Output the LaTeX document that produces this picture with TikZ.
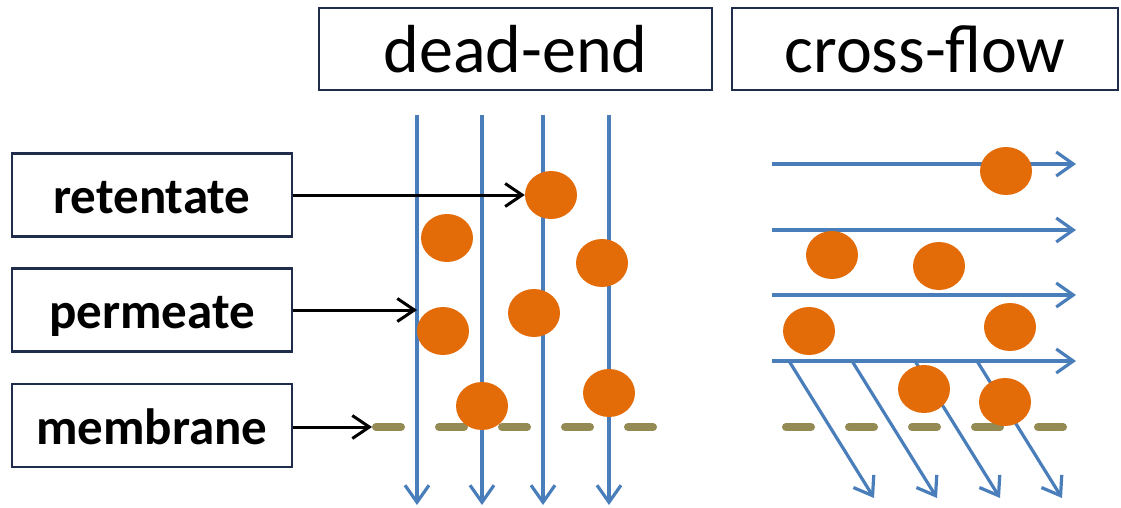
\documentclass[tikz,border=0pt]{standalone}
\usepackage{fontspec}
\setmainfont{Carlito}
\usetikzlibrary{arrows.meta,shapes.geometric}
\definecolor{flowblue}{HTML}{4A7EBB}
\definecolor{dotorange}{HTML}{E36C09}
\definecolor{membr}{HTML}{948A54}
\definecolor{boxline}{HTML}{1F2D4A}
\begin{document}
\begin{tikzpicture}[x=1pt,y=-1pt,
  labelbox/.style={draw=boxline, line width=2.5pt, minimum width=280pt, minimum height=83pt,
    inner sep=0pt, font=\fontsize{51}{61}\selectfont\bfseries, text height=37pt, text depth=0pt},
  headbox/.style={draw=boxline, line width=2.8pt, minimum height=82pt,
    inner sep=0pt, font=\fontsize{68}{78}\selectfont, text height=47pt, text depth=0pt},
  flow/.style={draw=flowblue, line width=3.2pt,
    -{Straight Barb[length=17pt,width=24pt,line width=3.2pt]}},
  pointer/.style={draw=black, line width=3pt,
    -{Straight Barb[length=17pt,width=23pt,line width=3pt]}},
  membrane/.style={draw=membr, line width=8pt, line cap=round, dash pattern=on 25pt off 38pt},
  dot/.style={ellipse, fill=dotorange, draw=none, minimum width=52pt, minimum height=48pt, inner sep=0pt}
]
\useasboundingbox (0,0) rectangle (1121,508);

% headers
\node[headbox, minimum width=393pt] (hde) at (515.5,49) {dead-end};
\node[headbox, minimum width=386pt] (hcf) at (925,49) {cross-flow};

% labels
\node[labelbox] (ret) at (152,195) {retentate};
\node[labelbox] (per) at (152,310) {permeate};
\node[labelbox] (mem) at (152,425.5) {membrane};

% dead-end membrane
\coordinate (m1s) at (372,427);
\draw[membrane] (376,427) -- (656,427);
% cross-flow membrane
\draw[membrane] (786,427) -- (1066,427);

% dead-end flow lines
\foreach \i/\x in {1/417,2/482,3/543,4/609}{
  \coordinate (dt\i) at (\x,115);
  \coordinate (db\i) at (\x,505);
  \draw[flow] (dt\i) -- (db\i);
}

% cross-flow horizontal lines
\foreach \i/\y in {1/164,2/230,3/295,4/361}{
  \coordinate (hl\i) at (772,\y);
  \coordinate (hr\i) at (1076,\y);
  \draw[flow] (hl\i) -- (hr\i);
}
% cross-flow diagonal lines
\foreach \i/\x in {1/789,2/852,3/915,4/977}{
  \coordinate (ds\i) at (\x,361);
  \coordinate (de\i) at (\x+85,498);
  \draw[flow] (ds\i) -- (de\i);
}

% dead-end particles
\node[dot] (p1) at (551,195) {};
\node[dot] (p2) at (447,238) {};
\node[dot] (p3) at (602,263) {};
\node[dot] (p4) at (534,313) {};
\node[dot] (p5) at (443,331) {};
\node[dot] (p6) at (482,406) {};
\node[dot] (p7) at (609,393) {};

% cross-flow particles
\node[dot] (q1) at (1006,171) {};
\node[dot] (q2) at (832,255) {};
\node[dot] (q3) at (939,266) {};
\node[dot] (q4) at (809,331) {};
\node[dot] (q5) at (1010,327) {};
\node[dot] (q6) at (924,389) {};
\node[dot] (q7) at (1005,402) {};

% pointers
\draw[pointer] (ret.east) -- (p1.west);
\draw[pointer] (per.east) -- (per.east -| dt1);
\draw[pointer] (mem.east |- m1s) -- (m1s);
\end{tikzpicture}
\end{document}
